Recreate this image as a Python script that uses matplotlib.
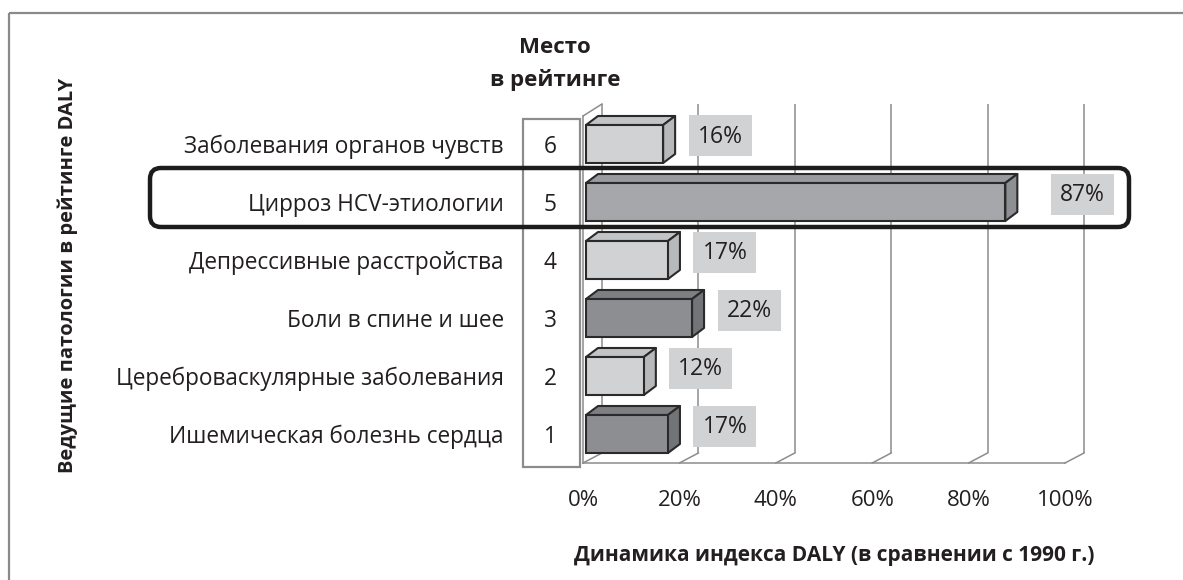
import matplotlib
matplotlib.use("Agg")
import matplotlib.pyplot as plt
from matplotlib.patches import Polygon, Rectangle, FancyBboxPatch

plt.rcParams["font.family"] = ["Open Sans", "DejaVu Sans"]

# ---- data (top to bottom as displayed) ----
categories = [
    "Заболевания органов чувств",
    "Цирроз HCV-этиологии",
    "Депрессивные расстройства",
    "Боли в спине и шее",
    "Цереброваскулярные заболевания",
    "Ишемическая болезнь сердца",
]
ranks = [6, 5, 4, 3, 2, 1]
daly_change = [16, 87, 17, 22, 12, 17]
tick_values = [0, 20, 40, 60, 80, 100]
tick_labels = ["0%", "20%", "40%", "60%", "80%", "100%"]
rank_title = "Место\nв рейтинге"
y_title = "Ведущие патологии в рейтинге DALY"
x_title = "Динамика индекса DALY (в сравнении с 1990 г.)"

# ---- styling ----
shade_of_bar = ["light", "medium", "light", "dark", "light", "dark"]
shades = {
    "light": ("#d1d2d4", "#c3c4c6", "#b8b9bb"),
    "medium": ("#a6a7aa", "#9a9b9e", "#8e8f92"),
    "dark": ("#8d8e91", "#7e7f82", "#737477"),
}
label_gap_px = [57, 77, 57, 57, 57, 57]   # label centre distance from bar end
TXT = "#231f20"
GRID = "#8c8c8c"
FS = 16

W, H = 1183, 580
fig = plt.figure(figsize=(W / 100, H / 100), dpi=100)

# plotting area: front floor edge from x=583..1065 px, y=463 px; top at 104 px
ax_l, ax_r, ax_b, ax_t = 583, 1065, 463, 104
ax = fig.add_axes([ax_l / W, (H - ax_b) / H, (ax_r - ax_l) / W, (ax_b - ax_t) / H])
row_px = 58.0
ax.set_xlim(0, 100)
ax.set_ylim(-0.5, -0.5 + (ax_b - ax_t) / row_px)
ax.set_axis_off()
ax.patch.set_alpha(0)

px_x = 100.0 / (ax_r - ax_l)   # data units per pixel (x)
px_y = 1.0 / row_px             # data units per pixel (y)

# 3-D frame: floor, left wall and back grid lines
floor_dx, floor_dy = 19 * px_x, 10 * px_y
y0 = -0.5
ytop = ax.get_ylim()[1]
for v in tick_values:
    ax.plot([v + floor_dx] * 2, [y0 + floor_dy, ytop], color=GRID, lw=1.1,
            zorder=1, clip_on=False, solid_capstyle="butt")
    ax.plot([v, v + floor_dx], [y0, y0 + floor_dy], color=GRID, lw=1.1,
            zorder=1, clip_on=False)
ax.plot([0, 100], [y0, y0], color=GRID, lw=1.1, zorder=1, clip_on=False)
wall_front_top = y0 + (ax_b - 116) * px_y
ax.plot([0, 0], [y0, wall_front_top], color=GRID, lw=1.1, zorder=1, clip_on=False)
ax.plot([0, floor_dx], [wall_front_top, ytop], color=GRID, lw=1.1, zorder=1,
        clip_on=False)

# 3-D bars
n = len(categories)
bar_x0 = 3 * px_x
bar_h = 38 * px_y
dep_dx, dep_dy = 12 * px_x, 9 * px_y
EDGE = "#2a2a2a"
for i, (val, sh) in enumerate(zip(daly_change, shade_of_bar)):
    yc = n - 1 - i
    yb, yt = yc - bar_h / 2, yc + bar_h / 2
    x1 = bar_x0 + val
    front_c, top_c, side_c = shades[sh]
    top = [(bar_x0, yt), (x1, yt), (x1 + dep_dx, yt + dep_dy), (bar_x0 + dep_dx, yt + dep_dy)]
    side = [(x1, yb), (x1 + dep_dx, yb + dep_dy), (x1 + dep_dx, yt + dep_dy), (x1, yt)]
    ax.add_patch(Polygon(top, closed=True, fc=top_c, ec=EDGE, lw=1.5, zorder=3,
                         joinstyle="round"))
    ax.add_patch(Polygon(side, closed=True, fc=side_c, ec=EDGE, lw=1.5, zorder=3,
                         joinstyle="round"))
    ax.add_patch(Rectangle((bar_x0, yb), val, bar_h, fc=front_c, ec=EDGE, lw=1.5,
                           zorder=4))
    # value label in a grey box
    lx = x1 + label_gap_px[i] * px_x
    ly = yc + 8 * px_y
    bw, bh = 63 * px_x, 41 * px_y
    ax.add_patch(Rectangle((lx - bw / 2, ly - bh / 2), bw, bh, fc="#d1d2d4",
                           ec="none", zorder=5, clip_on=False))
    ax.text(lx, ly - 1 * px_y, f"{val}%", ha="center", va="center", fontsize=16.5,
            color=TXT, zorder=6, clip_on=False)

# x tick labels under the front floor edge
for v, lab in zip(tick_values, tick_labels):
    ax.text(v, y0 - 38 * px_y, lab, ha="center", va="center", fontsize=FS,
            color=TXT, clip_on=False)

# ---- overlay in pixel coordinates for annotations ----
ov = fig.add_axes([0, 0, 1, 1], zorder=5)
ov.set_xlim(0, W)
ov.set_ylim(H, 0)
ov.set_axis_off()
ov.patch.set_alpha(0)

# outer frame (top and left edges)
ov.plot([9, W], [13, 13], color="#8a8a8a", lw=1.6, solid_capstyle="butt")
ov.plot([9, 9], [13, H], color="#8a8a8a", lw=1.6, solid_capstyle="butt")

# rank column box
ov.add_patch(Rectangle((523, 119), 57, 348, fc="white", ec=GRID, lw=1.6))


def row_px_y(i):
    return ax_b - (0.5 + (n - 1 - i)) * row_px


for i, (cat, r) in enumerate(zip(categories, ranks)):
    yp = row_px_y(i)
    ov.text(504, yp + 3, cat, ha="right", va="center", fontsize=16.3, color=TXT)
    ov.text(550, yp + 3, str(r), ha="center", va="center", fontsize=16.3, color=TXT)

# highlighted row
ov.add_patch(FancyBboxPatch((150, 168), 979, 59,
                            boxstyle="round,pad=0,rounding_size=11",
                            fc="none", ec="#1c1c1c", lw=3.2))

ov.text(555, 64, rank_title, ha="center", va="center", fontsize=FS,
        fontweight="bold", color=TXT, linespacing=1.65)
ov.text(68, 275, y_title, ha="center", va="center", rotation=90, fontsize=14.5,
        fontweight="bold", color=TXT)
ov.text(834, 556, x_title, ha="center", va="center", fontsize=15,
        fontweight="bold", color=TXT)

fig.savefig("out.png", dpi=100, facecolor="white")
